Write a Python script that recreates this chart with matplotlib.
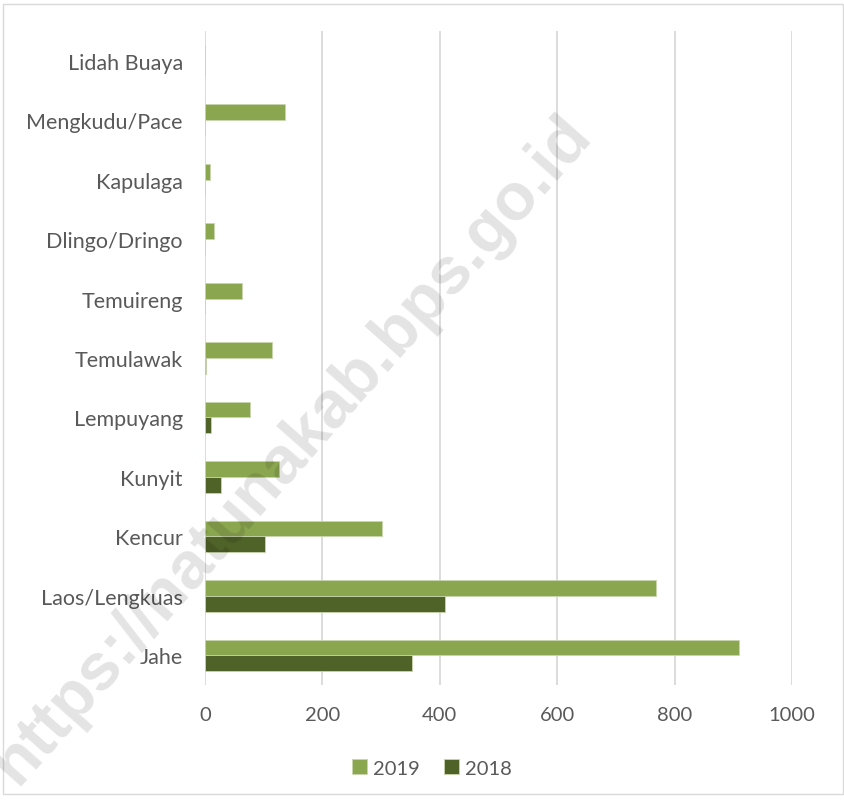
import numpy as np
import matplotlib
matplotlib.use("Agg")
import matplotlib.pyplot as plt
from matplotlib.patches import Rectangle

plt.rcParams['font.family'] = ['Lato', 'DejaVu Sans']

# Data (bottom to top)
categories = ['Jahe', 'Laos/Lengkuas', 'Kencur', 'Kunyit', 'Lempuyang',
              'Temulawak', 'Temuireng', 'Dlingo/Dringo', 'Kapulaga',
              'Mengkudu/Pace', 'Lidah Buaya']
val_2019 = [910, 768, 301, 126, 77, 114, 63, 15, 9, 136, 0]
val_2018 = [353, 409, 102, 27, 10, 2, 0, 0, 0, 0, 0]
xticks = [0, 200, 400, 600, 800, 1000]

c2019 = '#8AA64F'
c2018 = '#4F6228'
txt = '#595959'

W, H = 844, 803
fig = plt.figure(figsize=(W / 100, H / 100), dpi=100)
ax = fig.add_axes([205 / W, 1 - 686 / H, 587 / W, 654 / H])

y = np.arange(len(categories))
h = 0.265
ax.barh(y + h / 2, val_2019, height=h, color=c2019, edgecolor='#C9D6AE',
        linewidth=0.6, label='2019', zorder=3)
ax.barh(y - h / 2, val_2018, height=h, color=c2018, edgecolor='#C9D6AE',
        linewidth=0.6, label='2018', zorder=3)

ax.set_xlim(0, 1000)
ax.set_ylim(-0.5, len(categories) - 0.5)
ax.set_xticks(xticks)
ax.set_xticklabels([str(v) for v in xticks], fontsize=14.5, color=txt)
ax.set_yticks(y)
ax.set_yticklabels(categories, fontsize=15.5, color=txt)
ax.tick_params(axis='x', length=0, pad=15)
ax.tick_params(axis='y', length=0, pad=16)
ax.grid(axis='x', color='#D9D9D9', linewidth=1.3, zorder=0)
for s in ax.spines.values():
    s.set_visible(False)

leg = fig.legend(loc='center', bbox_to_anchor=(432 / W, 1 - 769 / H), ncol=2,
                 frameon=False, fontsize=14.5, handlelength=0.75,
                 handleheight=0.75, columnspacing=1.2, handletextpad=0.3)
for t in leg.get_texts():
    t.set_color(txt)

# watermark
fig.text(292 / W, 1 - 450 / H, 'https://natunakab.bps.go.id', rotation=48.5,
         ha='center', va='center', fontsize=48, fontweight='bold',
         color='black', alpha=0.11, family=['Liberation Sans'], zorder=10)

# outer border
fig.patches.append(Rectangle((3 / W, 1 - 795 / H), 840 / W, 790 / H,
                             transform=fig.transFigure, fill=False,
                             edgecolor='#D9D9D9', linewidth=1))

fig.savefig('out.png', dpi=100)
